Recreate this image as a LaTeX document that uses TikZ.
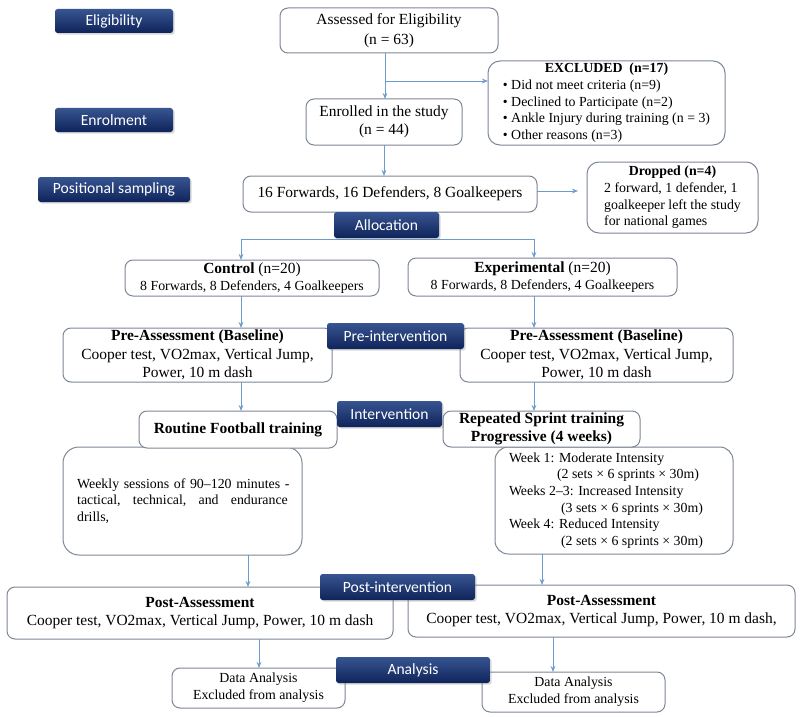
\documentclass[tikz,border=0pt]{standalone}
\usepackage{fontspec}
\setmainfont{Liberation Serif}
\newfontfamily\labfont{Carlito}
\usetikzlibrary{arrows.meta,shadows,calc}
\definecolor{bordc}{RGB}{125,135,150}
\definecolor{arrc}{RGB}{110,155,205}
\definecolor{labtop}{RGB}{55,85,145}
\definecolor{labmid}{RGB}{28,52,110}
\definecolor{labbot}{RGB}{15,35,90}
\newcommand{\fmain}{\fontsize{11.6}{13.8}\selectfont}
\newcommand{\fsmall}{\fontsize{10.4}{12.5}\selectfont}
\tikzset{
  box/.style={draw=bordc, line width=0.75pt, rounded corners=6pt, fill=white, inner sep=0pt, outer sep=0pt, align=center, font=\fmain},
  lab/.style={text=white, font={\labfont\fontsize{11.7}{13}\selectfont}, rounded corners=2pt, top color=labtop, middle color=labmid, bottom color=labbot, inner sep=0pt, outer sep=0pt, drop shadow={shadow xshift=1.2pt, shadow yshift=-1.2pt, opacity=0.3}},
  ln/.style={draw=arrc, line width=0.7pt},
  arr/.style={ln, -{Stealth[length=4.5pt,width=3.5pt]}}
}
\begin{document}
\begin{tikzpicture}[x=0.75pt,y=-0.75pt]
\fill[white] (0,0) rectangle (800,717);
\useasboundingbox (0,0) rectangle (800,717);

% white boxes
\node[box, minimum width=163.5pt, minimum height=33.75pt, font={\fontsize{11.6}{15}\selectfont}] (assess) at (389,30.5) {Assessed for Eligibility\\(n = 63)};
\node[box, rounded corners=9pt, minimum width=177.75pt, minimum height=63pt, font=\fsmall] (excl) at (606.5,103) {\begin{tabular}{@{}l@{}}\multicolumn{1}{@{}c@{}}{\textbf{EXCLUDED\ \ (n=17)}}\\ •~Did not meet criteria (n=9)\\ •~Declined to Participate (n=2)\\ •~Ankle Injury during training (n = 3)\\ •~Other reasons (n=3)\end{tabular}};
\node[box, minimum width=117pt, minimum height=34.5pt, font={\fontsize{11.6}{13.5}\selectfont}] (enrol) at (384,122) {Enrolled in the study\\(n = 44)};
\node[box, minimum width=220.5pt, minimum height=27pt] (pos) at (390,194) {16 Forwards, 16 Defenders, 8 Goalkeepers};
\node[box, rounded corners=9pt, minimum width=128.25pt, minimum height=53.25pt, font=\fsmall] (drop) at (672.5,197.5) {\begin{tabular}{@{}l@{}}\multicolumn{1}{@{}c@{}}{\textbf{Dropped (n=4)}}\\ 2 forward, 1 defender, 1\\ goalkeeper left the study\\ for national games\end{tabular}};
\node[box, minimum width=190.5pt, minimum height=27pt, font={\fontsize{11.6}{12.8}\selectfont}] (ctrl) at (252,278) {\textbf{Control} (n=20)\\{\fsmall 8 Forwards, 8 Defenders, 4 Goalkeepers}};
\node[box, minimum width=201.75pt, minimum height=28.5pt, font={\fontsize{11.6}{12.8}\selectfont}] (expt) at (542.5,277) {\textbf{Experimental} (n=20)\\{\fsmall 8 Forwards, 8 Defenders, 4 Goalkeepers}};
\node[box, minimum width=201.75pt, minimum height=40.5pt] (preL) at (197.5,355) {\textbf{Pre-Assessment (Baseline)}\\Cooper test, VO2max, Vertical Jump,\\Power, 10 m dash};
\node[box, minimum width=204.75pt, minimum height=40.5pt] (preR) at (596.5,355) {\textbf{Pre-Assessment (Baseline)}\\Cooper test, VO2max, Vertical Jump,\\Power, 10 m dash};
\node[box, rounded corners=12pt, minimum width=179.25pt, minimum height=81pt, font=\fsmall, text width=158pt, align=left] (weekly) at (182.5,501) {\mbox{Weekly sessions of 90–120 minutes -}\\\leavevmode\hbox to 158pt{tactical,\hfill technical,\hfill and\hfill endurance}\\drills,};
\node[box, minimum width=148.5pt, minimum height=27.75pt] (rout) at (238,429.5) {\textbf{Routine Football training}};
\node[box, rounded corners=10pt, minimum width=178.5pt, minimum height=80.25pt, font=\fsmall] (weeks) at (614,500.5) {\begin{tabular}{@{}l@{\hspace{12pt}}}Week 1: Moderate Intensity\\ \hspace*{36pt}(2 sets × 6 sprints × 30m)\\ Weeks 2–3: Increased Intensity\\ \hspace*{39pt}(3 sets × 6 sprints × 30m)\\ Week 4: Reduced Intensity\\ \hspace*{39pt}(2 sets × 6 sprints × 30m)\end{tabular}};
\node[box, minimum width=147.75pt, minimum height=27pt, font={\fontsize{11.6}{13.5}\selectfont}] (rep) at (541.5,429) {\textbf{Repeated Sprint training}\\\textbf{Progressive (4 weeks)}};
\node[box, minimum width=289.5pt, minimum height=39pt] (postL) at (200,613) {\textbf{Post-Assessment}\\Cooper test, VO2max, Vertical Jump, Power, 10 m dash};
\node[box, minimum width=290.25pt, minimum height=39pt] (postR) at (601.5,611) {\textbf{Post-Assessment}\\Cooper test, VO2max, Vertical Jump, Power, 10 m dash,};
\node[box, minimum width=129.75pt, minimum height=30pt, font=\fsmall] (daL) at (258.5,688) {Data Analysis\\Excluded from analysis};
\node[box, minimum width=137.25pt, minimum height=30pt, font=\fsmall] (daR) at (573.5,692) {Data Analysis\\Excluded from analysis};

% connectors
\coordinate (br) at (385,81);
\draw[arr] (assess.south -| br) -- (enrol.north -| br);
\draw[arr] (br) -- (br -| excl.west);
\draw[arr] (enrol.south) -- (pos.north -| enrol.south);
\coordinate (dp) at (537,191);
\draw[arr, shorten >=6.75pt] (pos.east |- dp) -- (dp -| drop.west);
\coordinate (a1) at (241,239);
\coordinate (a2) at (534,239);
\draw[ln] (a1) -- (a2);
\draw[arr] (a1) -- (a1 |- ctrl.north);
\draw[arr] (a2) -- (a2 |- expt.north);
\draw[arr] (ctrl.south -| a1) -- (preL.north -| a1);
\draw[arr] (expt.south -| a2) -- (preR.north -| a2);
\draw[arr] (preL.south -| a1) -- (rout.north -| a1);
\draw[arr] (preR.south -| a2) -- (rep.north -| a2);
\coordinate (w1) at (248,0);
\coordinate (w2) at (542,0);
\draw[arr] (weekly.south -| w1) -- (postL.north -| w1);
\draw[arr] (weeks.south -| w2) -- (postR.north -| w2);
\coordinate (p1) at (259,0);
\coordinate (p2) at (553,0);
\draw[arr] (postL.south -| p1) -- (daL.north -| p1);
\draw[arr] (postR.south -| p2) -- (daR.north -| p2);

% stage labels
\node[lab, minimum width=88.5pt, minimum height=18pt] (Lelig) at (114,21) {Eligibility};
\node[lab, minimum width=88.5pt, minimum height=18pt] (Lenrol) at (114,120) {Enrolment};
\node[lab, minimum width=114pt, minimum height=18.75pt] (Lpos) at (114,189.5) {Positional sampling};
\node[lab, minimum width=78.75pt, minimum height=19.5pt] (Lalloc) at (386.5,225) {Allocation};
\node[lab, minimum width=102.75pt, minimum height=19.5pt] (Lpre) at (395.5,336) {Pre-intervention};
\node[lab, minimum width=78.75pt, minimum height=19.5pt] (Lint) at (389.5,414) {Intervention};
\node[lab, minimum width=116.25pt, minimum height=19.5pt] (Lpost) at (397.5,587) {Post-intervention};
\node[lab, minimum width=115.5pt, minimum height=19.5pt] (Lana) at (413,670) {Analysis};
\end{tikzpicture}
\end{document}
